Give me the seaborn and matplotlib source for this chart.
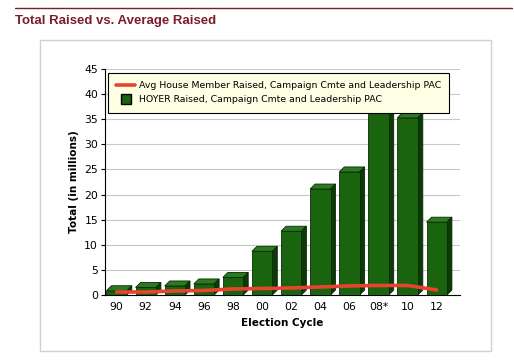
import numpy as np
import pandas as pd
import matplotlib
matplotlib.use("Agg")
import matplotlib.pyplot as plt
import seaborn as sns
from matplotlib.lines import Line2D
from matplotlib.patches import Polygon, Rectangle

# ---- data ----
cycles = ["90", "92", "94", "96", "98", "00", "02", "04", "06", "08*", "10", "12"]
hoyer_raised = [0.85, 1.5, 1.8, 2.2, 3.5, 8.7, 12.7, 21.1, 24.5, 40.5, 35.3, 14.5]
avg_raised = [0.6, 0.6, 0.8, 0.9, 1.2, 1.3, 1.4, 1.6, 1.8, 1.9, 1.9, 1.0]
y_ticks = [0, 5, 10, 15, 20, 25, 30, 35, 40, 45]

line_label = "Avg House Member Raised, Campaign Cmte and Leadership PAC"
bar_label = "HOYER Raised, Campaign Cmte and Leadership PAC"

front_c = "#1a6410"
top_c = "#2a7a1e"
side_c = "#0c3a07"
line_c = "#e8432f"
title_c = "#7a1e2a"

sns.set_theme(style="white")
plt.rcParams["font.family"] = ["DejaVu Sans"]

W, H = 514, 364
fig = plt.figure(figsize=(W / 100, H / 100), dpi=100)
fig.patch.set_facecolor("white")

# header rule and title
fig.add_artist(Line2D([15 / W, 512 / W], [1 - 8 / H, 1 - 8 / H], color=title_c, lw=1.0))
fig.text(15 / W, 1 - 24 / H, "Total Raised vs. Average Raised", color=title_c,
         fontsize=9.5, fontweight="bold", family="Liberation Sans", va="baseline", ha="left")
# panel border
fig.add_artist(Rectangle((40 / W, 1 - 351 / H), (491 - 40) / W, (351 - 40) / H,
                         fill=False, edgecolor="#d0d0d0", lw=1.0, transform=fig.transFigure))

ax = fig.add_axes([105 / W, 1 - 295 / H, (460 - 105) / W, (295 - 69) / H])
df = pd.DataFrame({"cycle": cycles, "raised": hoyer_raised, "avg": avg_raised})

sns.barplot(data=df, x="cycle", y="raised", color=front_c, width=0.7, ax=ax,
            saturation=1, edgecolor="#0a2a05", linewidth=0.6, zorder=3)
ax.set_xlim(-0.4, len(cycles) - 0.2)
ax.set_ylim(0, 45)
ax.set_yticks(y_ticks)

fig.canvas.draw()
# pseudo-3D faces derived from each bar's geometry
dpx, dpy = 5, 5
inv = ax.transData.inverted()
def shift(x, y):
    X, Y = ax.transData.transform((x, y))
    return inv.transform((X + dpx, Y + dpy))

for p in list(ax.patches):
    x0, w, h = p.get_x(), p.get_width(), p.get_height()
    x1 = x0 + w
    a = shift(x0, h); b = shift(x1, h); c = shift(x1, 0)
    top = Polygon([(x0, h), (x1, h), b, a], closed=True, facecolor=top_c,
                  edgecolor="#0a2a05", lw=0.6, zorder=2.9)
    side = Polygon([(x1, 0), (x1, h), b, c], closed=True, facecolor=side_c,
                   edgecolor="#0a2a05", lw=0.6, zorder=2.9)
    ax.add_patch(top)
    ax.add_patch(side)

sns.lineplot(x=np.arange(len(cycles)), y=avg_raised, color=line_c, lw=2.6, ax=ax, zorder=4)

ax.yaxis.grid(True, color="#c8c8c8", lw=0.8)
ax.set_axisbelow(True)
for s in ["top", "right"]:
    ax.spines[s].set_visible(False)
ax.spines["left"].set_color("black")
ax.spines["bottom"].set_color("black")
ax.spines["left"].set_linewidth(0.8)
ax.spines["bottom"].set_linewidth(0.8)
ax.tick_params(axis="both", which="both", length=3, width=0.8, color="black",
               labelsize=7.8, labelcolor="black", pad=2, direction="out", left=True, bottom=False)
ax.set_xlabel("Election Cycle", fontsize=7.5, fontweight="bold", labelpad=4, color="black")
ax.set_ylabel("Total (in millions)", fontsize=7.5, fontweight="bold", labelpad=4, color="black")

handles = [Line2D([0], [0], color=line_c, lw=2.6),
           Line2D([0], [0], marker="s", color="none", markerfacecolor=front_c,
                  markeredgecolor="black", markersize=6.5)]
leg = ax.legend(handles, [line_label, bar_label], loc="upper left",
                bbox_to_anchor=(0.0, 0.995), borderaxespad=0.3, fontsize=6.75, frameon=True,
                fancybox=False, framealpha=1, edgecolor="black", facecolor="#ffffe6",
                handlelength=2.0, handletextpad=0.4, borderpad=0.9, labelspacing=0.5)
for t in leg.get_texts():
    t.set_color("black")
leg.get_frame().set_linewidth(0.8)
leg.set_zorder(10)

fig.savefig("out.png", dpi=100)
